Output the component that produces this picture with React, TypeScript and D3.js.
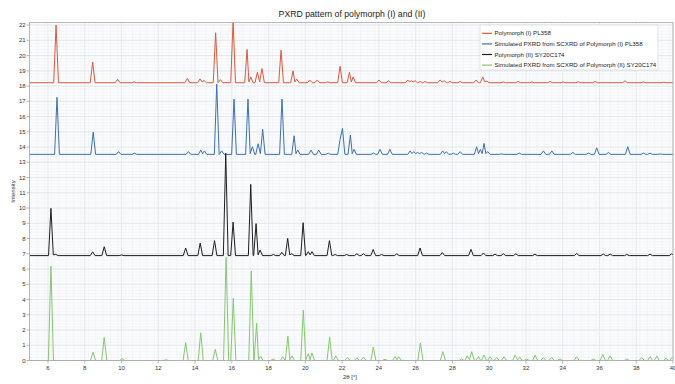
import React from 'react'
import * as d3 from 'd3'

// peak lists: [2θ, intensity]
const redBase = 18.22
const redPeaks: [number, number][] = [
  [6.44, 22.0], [8.43, 19.57], [9.79, 18.44], [10.68, 18.27], [13.58, 18.5], [14.27, 18.47], [14.49, 18.36],
  [15.12, 21.5], [15.38, 18.42], [16.07, 22.3], [16.83, 20.4], [17.03, 18.6], [17.39, 18.9], [17.64, 19.15],
  [18.68, 20.35], [19.33, 19.0], [19.53, 18.45], [20.24, 18.4], [20.65, 18.4], [21.22, 18.28], [21.89, 19.3],
  [22.4, 18.9], [22.6, 18.6], [24.01, 18.4], [24.52, 18.35], [25.57, 18.4], [25.77, 18.35], [25.97, 18.35],
  [26.24, 18.3], [26.51, 18.3], [27.33, 18.4], [27.55, 18.35], [27.87, 18.3], [28.42, 18.3], [29.29, 18.4],
  [29.65, 18.6], [29.87, 18.32], [30.76, 18.27], [31.57, 18.3], [32.32, 18.27], [33.31, 18.3], [34.04, 18.27],
  [34.85, 18.28], [35.76, 18.3], [37.39, 18.35], [38.39, 18.27], [39.48, 18.25]
]

const blueBase = 13.52
const bluePeaks: [number, number][] = [
  [6.49, 17.26], [8.46, 14.98], [9.84, 13.7], [10.7, 13.6], [13.64, 13.7], [14.31, 13.8], [14.51, 13.75],
  [15.18, 18.13], [15.45, 13.75], [16.12, 17.15], [16.88, 17.15], [17.12, 14.02], [17.43, 14.22], [17.68, 15.16],
  [18.73, 17.15], [19.39, 14.74], [19.59, 13.8], [20.31, 13.8], [20.73, 13.8], [21.25, 13.6], [21.89, 14.5],
  [22.02, 15.23], [22.45, 14.79], [22.65, 13.85], [23.7, 13.6], [24.06, 13.85], [24.6, 13.85], [25.7, 13.75],
  [25.9, 13.7], [26.1, 13.65], [26.33, 13.65], [26.6, 13.6], [27.47, 13.75], [27.67, 13.7], [28.05, 13.6],
  [28.42, 13.7], [29.32, 14.02], [29.52, 13.85], [29.72, 14.24], [29.92, 13.7], [30.68, 13.55], [31.64, 13.6],
  [32.95, 13.75], [33.41, 13.75], [34.55, 13.65], [35.4, 13.6], [35.85, 13.95], [36.49, 13.65], [37.54, 14.02],
  [38.39, 13.6], [38.75, 13.6], [39.3, 13.55]
]

const blackBase = 6.88
const blackPeaks: [number, number][] = [
  [6.16, 9.98], [6.42, 6.96], [8.43, 7.13], [9.06, 7.46], [10.0, 6.92], [13.49, 7.38], [14.28, 7.7], [15.06, 7.86],
  [15.67, 13.59], [16.07, 9.08], [17.03, 11.55], [17.32, 8.98], [17.54, 7.25], [18.26, 6.95], [18.72, 7.1],
  [19.04, 8.01], [19.26, 7.0], [19.88, 9.04], [20.16, 7.14], [20.36, 7.14], [21.31, 7.86], [21.62, 6.95],
  [22.25, 6.95], [22.8, 7.0], [23.16, 7.0], [23.69, 7.28], [24.15, 6.95], [24.97, 7.0], [26.24, 7.38],
  [27.45, 7.08], [29.01, 7.29], [29.69, 7.05], [30.32, 6.97], [30.77, 7.0], [31.45, 7.0], [32.49, 6.97],
  [34.76, 7.02], [36.21, 6.98], [36.58, 6.98], [37.49, 6.95], [38.75, 6.97], [39.93, 7.0]
]

const greenBase = 0
const greenPeaks: [number, number][] = [
  [6.16, 6.2], [8.45, 0.54], [9.06, 1.52], [10.03, 0.12], [12.42, 0.05], [13.49, 1.17], [14.31, 1.82],
  [15.1, 0.73], [15.69, 6.77], [16.08, 4.08], [17.06, 5.87], [17.35, 2.44], [17.56, 0.3], [18.25, 0.1],
  [18.77, 0.25], [19.05, 1.6], [19.27, 0.3], [19.89, 3.31], [20.16, 0.45], [20.36, 0.5], [21.32, 1.55],
  [21.66, 0.3], [22.28, 0.2], [22.8, 0.18], [23.16, 0.22], [23.7, 0.88], [24.33, 0.08], [24.88, 0.25],
  [25.08, 0.25], [26.26, 1.15], [27.48, 0.58], [28.5, 0.1], [28.81, 0.3], [29.05, 0.58], [29.41, 0.25],
  [29.72, 0.36], [30.05, 0.25], [30.41, 0.2], [30.81, 0.25], [31.41, 0.35], [31.68, 0.2], [32.04, 0.1],
  [32.5, 0.35], [32.95, 0.2], [33.4, 0.2], [33.86, 0.1], [34.76, 0.25], [35.67, 0.1], [36.18, 0.4],
  [36.58, 0.3], [37.49, 0.1], [38.3, 0.2], [38.75, 0.25], [39.12, 0.3], [39.62, 0.15], [39.95, 0.2]
]

const seriesNames = [
  'Polymorph (I) PL358',
  'Simulated PXRD from SCXRD of Polymorph (I) PL358',
  'Polymorph (II) SY20C174',
  'Simulated PXRD from SCXRD of Polymorph (II) SY20C174'
]
const seriesColors = ['#e0573b', '#3d6fb6', '#1e1e1e', '#85c86d']

const xTicks = d3.range(6, 41, 2)
const yTicks = d3.range(0, 23, 1)

const W = 675
const H = 384
const margin = { top: 22.5, right: 2, bottom: 23.5, left: 29.6 }
const font = '"Liberation Sans", Arial, sans-serif'

// turn a peak list into a polyline: baseline -> apex -> baseline
function peakLine(peaks: [number, number][], base: number, w = 0.13): [number, number][] {
  const pts: [number, number][] = [[5, base]]
  peaks.forEach((p, i) => {
    const prev = peaks[i - 1]
    const next = peaks[i + 1]
    if (!prev || p[0] - prev[0] >= 2 * w) pts.push([p[0] - w, base])
    pts.push(p)
    if (next && next[0] - p[0] < 2 * w) {
      if (next[0] - p[0] > 0.15) pts.push([(p[0] + next[0]) / 2, base + 0.05])
    } else {
      pts.push([p[0] + w, base])
    }
  })
  pts.push([40, base])
  return pts
}

export default function App() {
  const x = d3.scaleLinear().domain([5, 40]).range([margin.left, W - margin.right])
  const y = d3.scaleLinear().domain([0, 22.17]).range([H - margin.bottom, margin.top])
  const line = d3.line<[number, number]>().x(d => x(d[0])).y(d => y(d[1]))

  const series = [
    peakLine(redPeaks, redBase),
    peakLine(bluePeaks, blueBase),
    peakLine(blackPeaks, blackBase),
    peakLine(greenPeaks, greenBase, 0.14)
  ]

  const xMinor = d3.range(5, 40.01, 0.4)
  const yMinor = d3.range(0, 22.17, 0.2)
  const [x0, x1] = x.range()
  const [y0, y1] = y.range()

  return (
    <svg width={W} height={H} style={{ position: 'absolute', left: 0, top: 0, fontFamily: font }}>
      <rect width={W} height={H} fill="#fff" />
      <defs>
        <clipPath id="plot">
          <rect x={x0} y={y1} width={x1 - x0} height={y0 - y1} />
        </clipPath>
      </defs>
      <rect x={x0} y={y1} width={x1 - x0} height={y0 - y1} fill="#fbfcfd" />
      {/* minor grid */}
      {xMinor.map(v => (
        <line key={'xm' + v} x1={x(v)} x2={x(v)} y1={y1} y2={y0} stroke="#eef1f5" strokeWidth={0.6} />
      ))}
      {yMinor.map(v => (
        <line key={'ym' + v} x1={x0} x2={x1} y1={y(v)} y2={y(v)} stroke="#eef1f5" strokeWidth={0.6} />
      ))}
      {/* major grid */}
      {xTicks.map(v => (
        <line key={'xg' + v} x1={x(v)} x2={x(v)} y1={y1} y2={y0} stroke="#dfe4ea" strokeWidth={0.8} />
      ))}
      {yTicks.map(v => (
        <line key={'yg' + v} x1={x0} x2={x1} y1={y(v)} y2={y(v)} stroke="#dfe4ea" strokeWidth={0.8} />
      ))}

      <g clipPath="url(#plot)">
        {series.map((pts, i) => (
          <path key={i} d={line(pts) || ''} fill="none" stroke={seriesColors[i]} strokeWidth={1} strokeLinejoin="round" />
        ))}
      </g>

      <rect x={x0} y={y1} width={x1 - x0} height={y0 - y1} fill="none" stroke="#a9a9a9" strokeWidth={0.8} />

      {/* y axis */}
      {yTicks.map(v => (
        <g key={'yt' + v}>
          <line x1={x0 - 3} x2={x0} y1={y(v)} y2={y(v)} stroke="#888" strokeWidth={0.6} />
          <text x={x0 - 4} y={y(v)} dy="0.35em" textAnchor="end" fontSize={6} fill="#333">{v}</text>
        </g>
      ))}
      {/* x axis */}
      {xTicks.map(v => (
        <g key={'xt' + v}>
          <line x1={x(v)} x2={x(v)} y1={y0} y2={y0 + 3} stroke="#888" strokeWidth={0.6} />
          <text x={x(v)} y={y0 + 9.5} textAnchor="middle" fontSize={6} fill="#333">{v}</text>
        </g>
      ))}

      <text x={352} y={16.5} textAnchor="middle" fontSize={8.7} fill="#222">PXRD pattern of polymorph (I) and (II)</text>
      <text x={350} y={379} textAnchor="middle" fontSize={6} fill="#333">2θ [°]</text>
      <text transform={`translate(15,${(y0 + y1) / 2}) rotate(-90)`} textAnchor="middle" fontSize={6} fill="#333">Intensity</text>

      {/* legend */}
      <g transform="translate(480,25)">
        <rect width={178} height={45} fill="#fff" stroke="#d4d4d4" strokeWidth={0.6} />
        {seriesNames.map((name, i) => (
          <g key={name} transform={`translate(2,${8.3 + i * 10.6})`}>
            <line x1={0} x2={10} y1={0} y2={0} stroke={seriesColors[i]} strokeWidth={1.2} />
            <text x={12.5} y={0} dy="0.35em" fontSize={6.15} fill="#222">{name}</text>
          </g>
        ))}
      </g>
    </svg>
  )
}
